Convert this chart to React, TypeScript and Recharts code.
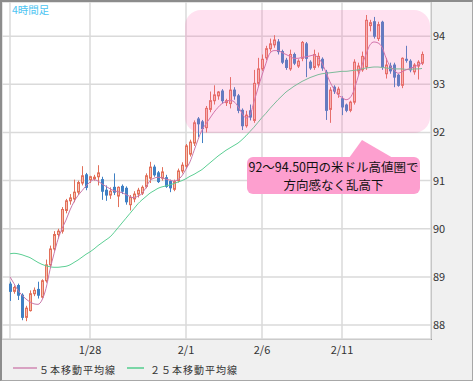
import React from 'react';
import { ComposedChart, Bar, Line, XAxis, YAxis, CartesianGrid } from 'recharts';

// 4-hour candles, USD/JPY
const opens = [
  88.85, 88.70, 88.82, 88.62, 88.16, 88.30, 88.65, 88.74, 88.58, 88.92,
  89.25, 89.58, 89.88, 89.95, 90.38, 90.58, 90.62, 90.76, 90.95, 91.12,
  91.02, 91.04, 91.08, 91.02, 90.80, 90.70, 90.86, 90.68, 90.88, 90.84,
  90.50, 90.62, 90.72, 90.74, 90.88, 91.05, 91.28, 91.16, 91.05, 91.06,
  90.98, 90.82, 91.00, 91.20, 91.30, 91.55, 91.78, 92.28, 92.22, 92.10,
  92.48, 92.66, 92.76, 92.86, 92.62, 92.60, 92.88, 92.76, 92.46, 92.14,
  92.45, 92.25, 93.02, 93.32, 93.55, 93.74, 93.82, 93.88, 93.68, 93.50,
  93.32, 93.62, 93.38, 93.54, 93.84, 93.46, 93.35, 93.40, 93.52, 93.25,
  92.48, 92.94, 92.80, 92.70, 92.57, 92.46, 92.63, 93.28, 93.30, 93.36,
  94.22, 94.30, 93.95, 94.29, 93.22, 93.38, 93.40, 93.19, 92.98, 93.52,
  93.48, 93.26, 93.38, 93.44,
];
const highs = [
  88.90, 88.82, 88.86, 88.66, 88.40, 88.72, 88.78, 88.90, 88.95, 89.36,
  89.65, 89.95, 90.00, 90.45, 90.62, 90.72, 91.02, 91.00, 91.30, 91.16,
  91.10, 91.12, 91.32, 91.08, 90.90, 90.86, 91.15, 90.88, 90.92, 90.88,
  90.70, 90.78, 90.85, 90.90, 91.15, 91.39, 91.33, 91.20, 91.28, 91.12,
  91.02, 91.02, 91.25, 91.38, 91.76, 91.85, 92.25, 92.32, 92.26, 92.55,
  92.85, 92.98, 92.86, 92.90, 92.70, 93.15, 92.94, 92.80, 92.50, 92.45,
  92.58, 93.30, 93.55, 93.62, 93.80, 93.95, 94.02, 93.94, 93.72, 93.55,
  93.72, 93.66, 93.52, 93.90, 93.88, 93.50, 93.72, 93.66, 93.56, 93.30,
  92.94, 92.98, 92.95, 92.75, 92.60, 92.66, 93.52, 93.45, 93.68, 94.44,
  94.34, 94.40, 94.30, 94.32, 93.55, 93.45, 93.45, 93.22, 93.56, 93.80,
  93.52, 93.44, 93.50, 93.68,
];
const lows = [
  88.50, 88.65, 88.52, 88.10, 88.08, 88.28, 88.60, 88.55, 88.55, 88.88,
  89.20, 89.54, 89.80, 89.90, 90.32, 90.50, 90.55, 90.70, 90.90, 90.80,
  90.95, 91.00, 90.90, 90.60, 90.58, 90.62, 90.70, 90.45, 90.72, 90.50,
  90.38, 90.55, 90.65, 90.70, 90.84, 90.95, 91.08, 90.95, 91.00, 90.85,
  90.76, 90.78, 90.96, 91.15, 91.25, 91.50, 91.72, 91.90, 91.78, 92.00,
  92.42, 92.58, 92.68, 92.60, 92.55, 92.50, 92.68, 92.40, 92.05, 92.10,
  92.25, 92.20, 92.96, 93.28, 93.50, 93.68, 93.76, 93.62, 93.42, 93.30,
  93.28, 93.40, 93.34, 93.48, 93.15, 93.30, 93.30, 93.35, 93.28, 92.26,
  92.20, 92.80, 92.72, 92.36, 92.42, 92.42, 92.58, 93.20, 93.26, 93.30,
  94.10, 93.95, 93.90, 93.30, 93.12, 93.22, 92.94, 92.95, 92.92, 93.45,
  93.25, 93.20, 93.10, 93.40,
];
const closes = [
  88.70, 88.78, 88.62, 88.16, 88.35, 88.65, 88.72, 88.62, 88.92, 89.25,
  89.58, 89.88, 89.95, 90.40, 90.58, 90.64, 90.76, 90.96, 91.10, 90.86,
  91.08, 91.07, 91.16, 90.78, 90.70, 90.78, 90.76, 90.86, 90.78, 90.56,
  90.65, 90.72, 90.80, 90.86, 91.10, 91.28, 91.12, 90.98, 91.18, 90.88,
  90.85, 90.98, 91.20, 91.32, 91.72, 91.80, 92.20, 92.18, 92.08, 92.50,
  92.66, 92.78, 92.84, 92.66, 92.66, 92.88, 92.76, 92.46, 92.14, 92.36,
  92.32, 93.02, 93.32, 93.52, 93.74, 93.84, 93.92, 93.68, 93.46, 93.35,
  93.62, 93.44, 93.48, 93.87, 93.54, 93.34, 93.62, 93.58, 93.34, 92.46,
  92.88, 92.86, 92.90, 92.53, 92.46, 92.63, 93.46, 93.38, 93.58, 94.33,
  94.28, 94.00, 94.24, 93.36, 93.40, 93.28, 93.15, 92.98, 93.54, 93.50,
  93.30, 93.40, 93.46, 93.62,
];
// 5-bar moving average
const ma5 = [
  89.00, 88.86, 88.72, 88.62, 88.54, 88.48, 88.44, 88.43, 88.52, 88.76,
  89.15, 89.48, 89.78, 90.00, 90.18, 90.39, 90.56, 90.69, 90.79, 90.89,
  90.97, 91.02, 90.99, 90.93, 90.88, 90.83, 90.79, 90.77, 90.75, 90.71,
  90.67, 90.64, 90.68, 90.73, 90.86, 91.00, 91.05, 91.07, 91.06, 91.03,
  91.01, 90.99, 91.02, 91.10, 91.24, 91.39, 91.62, 91.85, 92.05, 92.18,
  92.30, 92.42, 92.52, 92.60, 92.64, 92.67, 92.64, 92.54, 92.40, 92.30,
  92.36, 92.64, 92.92, 93.19, 93.44, 93.65, 93.70, 93.70, 93.66, 93.62,
  93.58, 93.54, 93.54, 93.56, 93.57, 93.59, 93.61, 93.55, 93.44, 93.25,
  93.05, 92.90, 92.78, 92.73, 92.68, 92.72, 92.88, 93.15, 93.40, 93.62,
  93.82, 93.88, 93.86, 93.77, 93.55, 93.38, 93.30, 93.23, 93.26, 93.30,
  93.33, 93.36, 93.40, 93.44,
];
// 25-bar moving average
const ma25 = [
  89.48, 89.49, 89.48, 89.46, 89.43, 89.40, 89.35, 89.30, 89.26, 89.23,
  89.21, 89.20, 89.20, 89.21, 89.22, 89.25, 89.30, 89.35, 89.41, 89.47,
  89.52, 89.58, 89.65, 89.71, 89.77, 89.83, 89.92, 90.02, 90.12, 90.22,
  90.32, 90.42, 90.52, 90.60, 90.67, 90.74, 90.79, 90.84, 90.87, 90.89,
  90.91, 90.94, 90.97, 91.00, 91.04, 91.09, 91.13, 91.18, 91.23, 91.30,
  91.37, 91.44, 91.51, 91.57, 91.63, 91.68, 91.73, 91.78, 91.85, 91.93,
  92.02, 92.11, 92.21, 92.31, 92.40, 92.50, 92.59, 92.68, 92.76, 92.84,
  92.90, 92.96, 93.01, 93.06, 93.10, 93.14, 93.17, 93.20, 93.22, 93.23,
  93.24, 93.25, 93.26, 93.27, 93.27, 93.28, 93.29, 93.30, 93.32, 93.34,
  93.35, 93.36, 93.36, 93.35, 93.34, 93.33, 93.32, 93.32, 93.32, 93.31,
  93.31, 93.32, 93.32, 93.33,
];
const dateTicks = [0, 20, 44, 63, 83];
const dateLabels = ['', '1/28', '2/1', '2/6', '2/11'];
const priceTicks = [88, 89, 90, 91, 92, 93, 94];

const data = opens.map((open, i) => ({
  i,
  open,
  high: highs[i],
  low: lows[i],
  close: closes[i],
  range: [lows[i], highs[i]],
  ma5: ma5[i],
  ma25: ma25[i],
}));

const UP = '#e2705a';
const UP_FILL = '#f6bfae';
const DOWN = '#3f80c4';

const Candle = (props: any) => {
  const { x, y, width, height, payload } = props;
  if (x == null || y == null) return null;
  const { open, close, high, low } = payload;
  const cx = Math.floor(x + width / 2) + 0.5;
  const span = high - low || 1;
  const toY = (v: number) => y + ((high - v) / span) * height;
  const up = close >= open;
  const top = toY(Math.max(open, close));
  const bot = toY(Math.min(open, close));
  const color = up ? UP : DOWN;
  return (
    <g>
      <line x1={cx} x2={cx} y1={y} y2={y + height} stroke={color} strokeWidth={1} />
      <rect
        x={cx - 1}
        y={top}
        width={2}
        height={Math.max(bot - top, 1)}
        fill={up ? UP_FILL : color}
        stroke={color}
        strokeWidth={1}
      />
    </g>
  );
};

const font = '"Noto Sans CJK JP", "Noto Sans", sans-serif';

export default function App() {
  return (
    <div
      style={{
        position: 'relative',
        width: 473,
        height: 381,
        boxSizing: 'border-box',
        background: '#f0f0f0',
        borderTop: '2px solid #8c8c8c',
        borderLeft: '2px solid #8c8c8c',
        borderRight: '1px solid #a8a8a8',
        borderBottom: '1px solid #a8a8a8',
        fontFamily: font,
        overflow: 'hidden',
      }}
    >
      <style>{'body{margin:0}'}</style>
      {/* plot background */}
      <div
        style={{
          position: 'absolute',
          left: 0,
          top: 0,
          width: 429,
          height: 337,
          background: '#fff',
          borderRight: '1px solid #8c8c8c',
          borderBottom: '1px solid #a0a0a0',
        }}
      />
      <div style={{ position: 'absolute', left: -2, top: -2 }}>
        <ComposedChart
          width={473}
          height={381}
          data={data}
          margin={{ top: 2, right: 0, bottom: 0, left: 2 }}
          barCategoryGap={0}
        >
          <CartesianGrid stroke="#dadada" verticalPoints={undefined} strokeWidth={1.5} />
          <XAxis
            dataKey="i"
            type="category"
            ticks={dateTicks}
            interval={0}
            tickFormatter={(v: number) => dateLabels[dateTicks.indexOf(v)] ?? ''}
            axisLine={false}
            tickLine={false}
            tickSize={6}
            tickMargin={1}
            height={42}
            padding={{ left: 6, right: 7 }}
            tick={{ fill: '#333', fontSize: 11, fontFamily: font }}
          />
          <YAxis
            orientation="right"
            type="number"
            domain={[87.71, 94.71]}
            ticks={priceTicks}
            allowDataOverflow
            axisLine={false}
            tickLine={false}
            tickSize={2}
            tickMargin={0}
            width={42}
            tick={{ fill: '#333', fontSize: 11, fontFamily: font, textAnchor: 'start' }}
          />
          <Bar dataKey="range" shape={(p: any) => <Candle {...p} />} isAnimationActive={false} />
          <Line
            dataKey="ma25"
            type="monotone"
            stroke="#5ccf94"
            strokeWidth={1}
            dot={false}
            isAnimationActive={false}
          />
          <Line
            dataKey="ma5"
            type="monotone"
            stroke="#c878aa"
            strokeWidth={1}
            dot={false}
            isAnimationActive={false}
          />
        </ComposedChart>
      </div>

      <div
        style={{
          position: 'absolute',
          left: 10,
          top: 1,
          fontSize: 10.5,
          color: '#4cc4f2',
          lineHeight: '14px',
        }}
      >
        4時間足
      </div>

      {/* highlighted range */}
      <div
        style={{
          position: 'absolute',
          left: 183,
          top: 8,
          width: 245,
          height: 123,
          borderRadius: 16,
          background: 'rgba(255, 105, 180, 0.2)',
        }}
      />

      {/* callout */}
      <svg style={{ position: 'absolute', left: -2, top: -2 }} width={473} height={381}>
        <polygon points="349,158 362,140 393,158" fill="#fd9fcf" />
      </svg>
      <div
        style={{
          position: 'absolute',
          left: 245,
          top: 155,
          width: 173,
          height: 37,
          borderRadius: 6,
          background: '#fd9fcf',
          color: '#111',
          fontSize: 12.5,
          lineHeight: '18px',
          textAlign: 'center',
          paddingTop: 1,
          boxSizing: 'border-box',
        }}
      >
        92〜94.50円の米ドル高値圏で
        <br />
        方向感なく乱高下
      </div>

      {/* legend */}
      <div style={{ position: 'absolute', left: 11, top: 365, width: 24, height: 2, background: '#d8a2c2' }} />
      <div
        style={{
          position: 'absolute',
          left: 37,
          top: 359,
          fontSize: 10,
          letterSpacing: 1,
          color: '#333',
          lineHeight: '18px',
        }}
      >
        ５本移動平均線
      </div>
      <div style={{ position: 'absolute', left: 125, top: 365, width: 17, height: 2, background: '#7ad6a6' }} />
      <div
        style={{
          position: 'absolute',
          left: 148,
          top: 359,
          fontSize: 10,
          letterSpacing: 1,
          color: '#333',
          lineHeight: '18px',
        }}
      >
        ２５本移動平均線
      </div>
    </div>
  );
}
